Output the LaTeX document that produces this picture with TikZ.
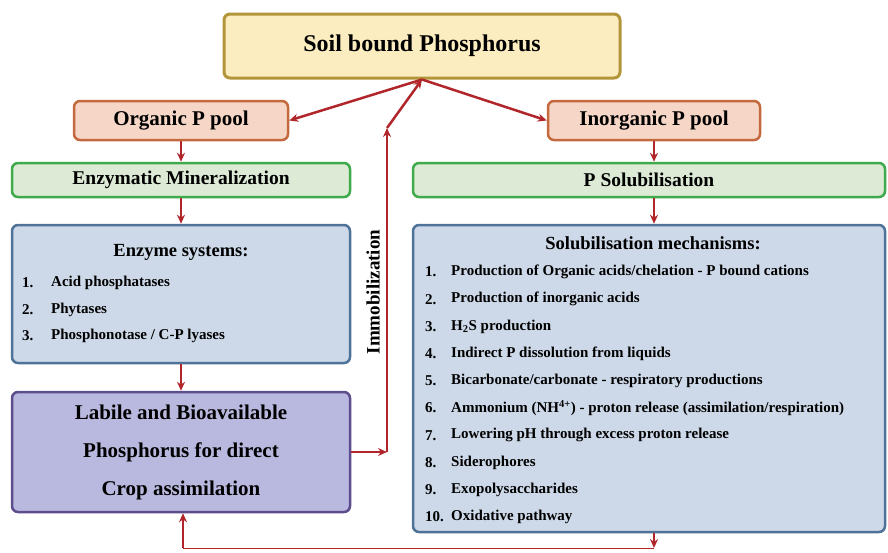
\documentclass[tikz,border=0pt]{standalone}
\usepackage{fontspec}
\setmainfont{Liberation Serif}
\usepackage{xcolor}
\usetikzlibrary{arrows.meta}

\definecolor{soilfill}{HTML}{FBEDC0}
\definecolor{soildraw}{HTML}{B39539}
\definecolor{poolfill}{HTML}{F6D7C7}
\definecolor{pooldraw}{HTML}{C4683D}
\definecolor{greenfill}{HTML}{DDEBD6}
\definecolor{greendraw}{HTML}{3FAA4C}
\definecolor{bluefill}{HTML}{CDD9E8}
\definecolor{bluedraw}{HTML}{4F7298}
\definecolor{labfill}{HTML}{B9B8DE}
\definecolor{labdraw}{HTML}{5E4D8D}
\definecolor{arrred}{HTML}{B0262A}

\tikzset{
 box/.style={rectangle,rounded corners=6pt,line width=2.5pt,inner sep=0pt,text=black},
 soilbox/.style={box,fill=soilfill,draw=soildraw,line width=3pt},
 poolbox/.style={box,fill=poolfill,draw=pooldraw,minimum height=39pt,font=\fontsize{21}{25}\selectfont\bfseries},
 procbox/.style={box,fill=greenfill,draw=greendraw,minimum height=34pt,font=\fontsize{19.5}{23}\selectfont\bfseries},
 listbox/.style={box,fill=bluefill,draw=bluedraw},
 labbox/.style={box,fill=labfill,draw=labdraw},
 arr/.style={-{Stealth[length=9pt,width=8pt]},line width=2.5pt,draw=arrred},
 head/.style={inner sep=0pt,font=\fontsize{18.5}{22}\selectfont\bfseries},
 item/.style={anchor=west,inner sep=0pt,font=\fontsize{15}{17}\selectfont\bfseries},
}

\begin{document}
\begin{tikzpicture}[x=1pt,y=-1pt]
\useasboundingbox (0,0) rectangle (888,552);
% boxes
\node[soilbox,minimum width=396pt,minimum height=64pt,font=\fontsize{24}{28}\selectfont\bfseries] (soil) at (422,46) {Soil bound Phosphorus};
\node[poolbox,minimum width=214pt] (org) at (181,120.5) {Organic P pool};
\node[poolbox,minimum width=212pt] (inorg) at (654,120.5) {Inorganic P pool};
\node[procbox,minimum width=338pt] (enzmin) at (181,180) {Enzymatic Mineralization};
\node[procbox,minimum width=472pt] (psol) at (649,180) {P Solubilisation};
\node[listbox,minimum width=338pt,minimum height=138pt] (enzsys) at (181,294) {};
\node[listbox,minimum width=472pt,minimum height=307pt] (mech) at (649,378.5) {};
\node[labbox,minimum width=338pt,minimum height=120pt,align=center,font=\fontsize{21}{38}\selectfont\bfseries] (labile) at (181,452) {Labile and Bioavailable\\Phosphorus for direct\\Crop assimilation};

% lists
\node[head] (enzhead) at (181,252) {Enzyme systems:};
\foreach \t [count=\i] in {Acid phosphatases,Phytases,Phosphonotase / C-P lyases} {
  \node[item] (en\i) at (22,256.5+26.5*\i) {\i.};
  \node[item] (et\i) at (51,256.5+26.5*\i) {\t};
}
\node[head] (mechhead) at (653,243) {Solubilisation mechanisms:};
\foreach \t [count=\i] in {{Production of Organic acids/chelation - P bound cations},
  {Production of inorganic acids},{H\textsubscript{2}S production},
  {Indirect P dissolution from liquids},{Bicarbonate/carbonate - respiratory productions},
  {Ammonium (NH\textsuperscript{4+}) - proton release (assimilation/respiration)},
  {Lowering pH through excess proton release},{Siderophores},{Exopolysaccharides},
  {Oxidative pathway}} {
  \node[item] (mn\i) at (425,244.8+27.2*\i) {\i.};
  \node[item] (mt\i) at (451,244.8+27.2*\i) {\t};
}

\node[rotate=90,inner sep=0pt,font=\fontsize{19}{22}\selectfont\bfseries] (immo) at (373,292) {Immobilization};

% connectors
\draw[arr] (soil.south) -- (org.east);
\draw[arr] (soil.south) -- (inorg.west);
\draw[arr] (org) -- (enzmin);
\draw[arr] (enzmin) -- (enzsys);
\draw[arr] (enzsys) -- (labile);
\draw[arr] (inorg.south) -- (inorg.south |- psol.north);
\draw[arr] (inorg.south |- psol.south) -- (inorg.south |- mech.north);

\coordinate (immlow) at (387,452);
\coordinate (immtop) at (387,128);
\draw[arr] (labile.east) -- (immlow);
\draw[arr] (immlow) -- (immtop);
\draw[arr] (immtop) -- (soil.south);

\coordinate (botr) at (654,548);
\coordinate (botl) at (183,548);
\draw[arr] (inorg.south |- mech.south) -- (botr);
\draw[arrred,line width=1pt] (botr) -- (botl);
\draw[arr] (botl) -- (botl |- labile.south);
\end{tikzpicture}
\end{document}
